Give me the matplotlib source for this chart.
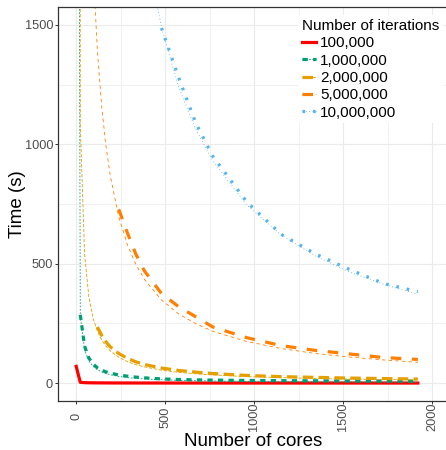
import numpy as np
import matplotlib
matplotlib.use("Agg")
import matplotlib.pyplot as plt

plt.rcParams["font.family"] = ["Liberation Sans", "DejaVu Sans"]

# core counts where runs were timed
cores = [1, 24, 48, 72, 96, 120, 144, 168, 192, 240, 288, 336, 384, 480,
         576, 672, 768, 960, 1152, 1344, 1536, 1728, 1920]

# measured run time (s), None = not measured
t_100k = [70, 3.2, 1.8, 1.3, 1.1, 0.9, 0.8, 0.7, 0.6, 0.5, 0.45, 0.4, 0.35, 0.3,
          0.3, 0.25, 0.25, 0.2, 0.2, 0.2, 0.2, 0.2, 0.2]
t_1m = [None, 286, 155, 105, 80, 64, 54, 47, 42, 34, 29, 25, 22, 17.5,
        15, 13.5, 12.5, 11, 10, 9.5, 9, 8.5, 8]
t_2m = [None, None, None, None, None, 235, 200, 173, 152, 124, 104, 89, 78, 63,
        53, 46, 40, 32, 27, 24, 21, 19, 17]
t_5m = [None] * 9 + [728, 630, 540, 470, 375, 320, 278, 235, 190, 157, 137, 122, 107, 99]
t_10m = [None] * 13 + [1487, 1280, 1090, 950, 758, 623, 541, 476, 417, 383]

# ideal scaling curves (thin lines)
i_100k = [70, 2.9, 1.5, 1.0, 0.7, 0.6, 0.5, 0.4, 0.4, 0.3, 0.2, 0.2, 0.2, 0.15,
          0.12, 0.1, 0.09, 0.07, 0.06, 0.05, 0.05, 0.04, 0.04]
i_1m = [6700, 280, 140, 93, 70, 56, 47, 40, 35, 28, 23, 20, 17.5, 14,
        11.5, 10, 8.7, 7, 5.8, 5, 4.4, 3.9, 3.5]
i_2m = [26000, 1083, 542, 361, 271, 217, 181, 155, 135, 108, 90, 77, 68, 54,
        45, 39, 34, 27, 23, 19, 17, 15, 13.5]
i_5m = [167000, 6960, 3480, 2320, 1740, 1392, 1160, 994, 870, 696, 580, 497, 435, 348,
        290, 249, 217, 174, 145, 124, 109, 97, 87]
i_10m = [715000, 29800, 14900, 9930, 7450, 5960, 4965, 4256, 3724, 2979, 2483, 2128, 1862, 1490,
         1241, 1064, 931, 745, 621, 532, 465, 414, 372]

labels = ["100,000", "1,000,000", "2,000,000", "5,000,000", "10,000,000"]
measured = [t_100k, t_1m, t_2m, t_5m, t_10m]
ideal = [i_100k, i_1m, i_2m, i_5m, i_10m]
colors = ["#FF0000", "#009E73", "#E69F00", "#FF7F00", "#56B4E9"]
# ggplot style dash patterns (on, off) in units of line width
dashes = [None, (2, 2), (4, 2), (4, 4), (1, 3)]

lw_thick = 2.3
lw_thin = 0.6
unit = 1.9 / lw_thick   # keep dash period of the thick lines

fig = plt.figure(figsize=(4.46, 4.5), dpi=100)
ax = fig.add_axes([57.5 / 446, 49 / 450, (449 - 57.5) / 446, 394 / 450])

x = np.array(cores, dtype=float)
handles = []
for lab, m, i, c, d in zip(labels, measured, ideal, colors, dashes):
    if d is None:
        ls_thick = ls_thin = "-"
    else:
        ls_thick = (0, (d[0] * unit, d[1] * unit))
        ls_thin = (0, d)
    thick, = ax.plot(x, np.array(m, dtype=float), color=c, lw=lw_thick, ls=ls_thick)
    thin, = ax.plot(x, np.array(i, dtype=float), color=c, lw=lw_thin, ls=ls_thin)
    handles.append((thick, thin))

ax.set_xlim(-104, 2095)
ax.set_ylim(-75, 1575)
ax.set_xticks([0, 500, 1000, 1500, 2000])
ax.set_xticks([250, 750, 1250, 1750], minor=True)
ax.set_yticks([0, 500, 1000, 1500])
ax.set_yticks([250, 750, 1250], minor=True)
ax.set_axisbelow(True)
ax.grid(which="major", color="#EBEBEB", lw=0.8)
ax.grid(which="minor", color="#EFEFEF", lw=0.6)
ax.tick_params(which="minor", length=0)
ax.tick_params(which="major", length=2.2, width=0.7, color="#333333",
               labelsize=9.2, labelcolor="#4D4D4D")
ax.tick_params(axis="y", pad=1)
ax.tick_params(axis="x", pad=9.2)
for t in ax.get_xticklabels():
    t.set_rotation(90)
    t.set_va("center")
    t.set_ha("center")
for s in ax.spines.values():
    s.set_color("#333333")
    s.set_linewidth(0.9)

ax.set_xlabel("Number of cores", fontsize=13.5, va="center")
ax.xaxis.set_label_coords(0.5, -40 / 394)
ax.set_ylabel("Time (s)", fontsize=13.5, va="center")
ax.yaxis.set_label_coords(-40.5 / 391.5, 0.5)

leg = fig.legend(handles, labels, title="Number of iterations", loc="upper left",
                 bbox_to_anchor=(298 / 446, 1 - 15 / 450), fontsize=11,
                 title_fontsize=11, handlelength=0.95, handletextpad=0.25,
                 labelspacing=0.22, borderpad=0.25, borderaxespad=0,
                 frameon=True, fancybox=False, framealpha=1, alignment="left")
leg.get_frame().set_edgecolor("white")
leg.get_frame().set_linewidth(0)

fig.savefig("out.png", dpi=100)
